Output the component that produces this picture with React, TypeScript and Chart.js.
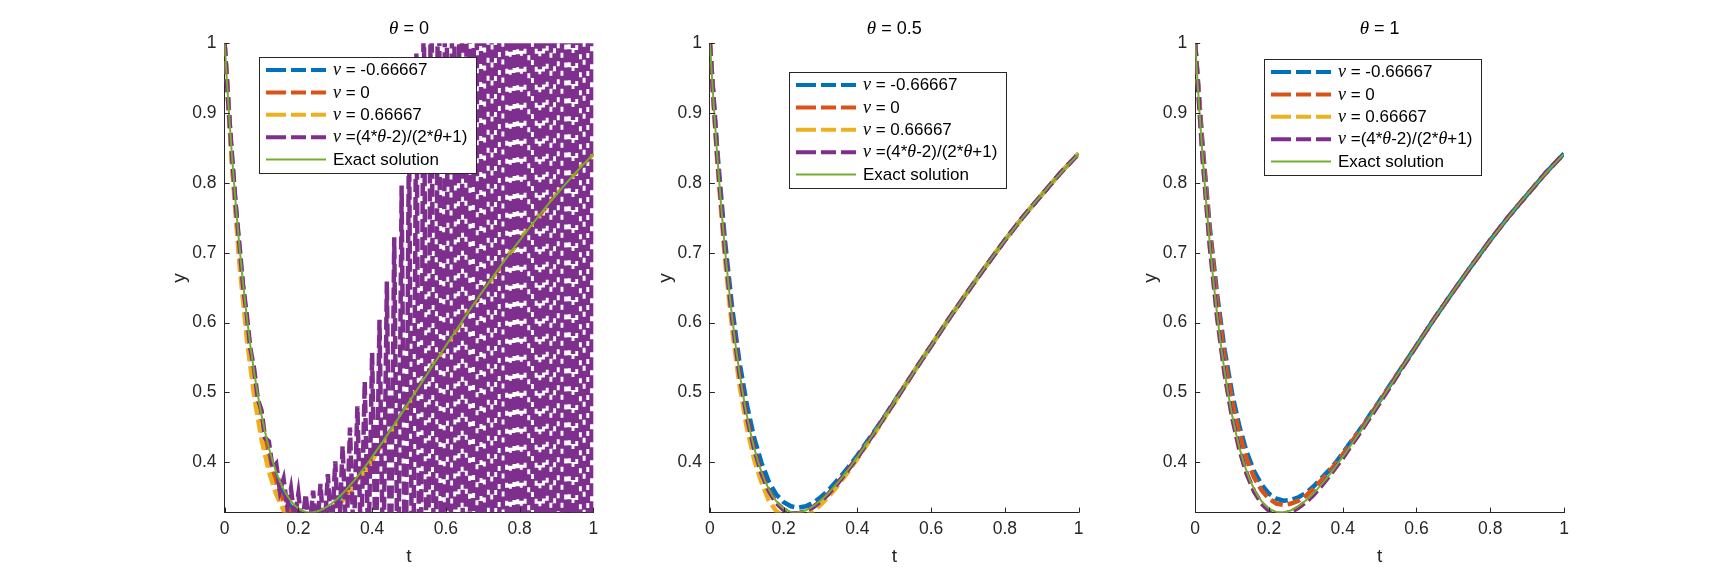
import { useEffect, useRef } from 'react';
import { Chart, registerables } from 'chart.js';

Chart.register(...registerables);

// ---------------- data ----------------
const panelThetas = ['0', '0.5', '1'];
const nuLabels = ['-0.66667', '0', '0.66667'];

const tGrid = [
  0, 0.02, 0.04, 0.06, 0.08, 0.1, 0.12, 0.14, 0.16, 0.18, 0.2, 0.22, 0.24, 0.26, 0.28, 0.3,
  0.32, 0.34, 0.36, 0.38, 0.4, 0.42, 0.44, 0.46, 0.48, 0.5, 0.55, 0.6, 0.65, 0.7, 0.75, 0.8,
  0.85, 0.9, 0.95, 1,
];

const tFine = [
  0, 0.01, 0.02, 0.03, 0.04, 0.05, 0.06, 0.07, 0.08, 0.09,
  0.1, 0.11, 0.12, 0.13, 0.14, 0.15, 0.16, 0.17, 0.18, 0.19,
  0.2, 0.21, 0.22, 0.23, 0.24, 0.25, 0.26, 0.27, 0.28, 0.29,
  0.3, 0.31, 0.32, 0.33, 0.34, 0.35, 0.36, 0.37, 0.38, 0.39,
  0.4, 0.41, 0.42, 0.43, 0.44, 0.45, 0.46, 0.47, 0.48, 0.49,
  0.5, 0.51, 0.52, 0.53, 0.54, 0.55, 0.56, 0.57, 0.58, 0.59,
  0.6, 0.61, 0.62, 0.63, 0.64, 0.65, 0.66, 0.67, 0.68, 0.69,
  0.7, 0.71, 0.72, 0.73, 0.74, 0.75, 0.76, 0.77, 0.78, 0.79,
  0.8, 0.81, 0.82, 0.83, 0.84, 0.85, 0.86, 0.87, 0.88, 0.89,
  0.9, 0.91, 0.92, 0.93, 0.94, 0.95, 0.96, 0.97, 0.98, 0.99,
  1,
];

const exactSolution = [
  1.0, 0.9148, 0.8387, 0.7708, 0.7103, 0.6565, 0.6088, 0.5665, 0.5292, 0.4965,
  0.4677, 0.4427, 0.4209, 0.4021, 0.3861, 0.3725, 0.3612, 0.3519, 0.3443, 0.3385,
  0.334, 0.331, 0.329, 0.3283, 0.3284, 0.3295, 0.3314, 0.3339, 0.3372, 0.341,
  0.3453, 0.3501, 0.3554, 0.3609, 0.3669, 0.3731, 0.3796, 0.3863, 0.3933, 0.4004,
  0.4077, 0.4152, 0.4228, 0.4305, 0.4382, 0.4461, 0.454, 0.462, 0.47, 0.478,
  0.4861, 0.4943, 0.5024, 0.5105, 0.5186, 0.5268, 0.5349, 0.5429, 0.551, 0.559,
  0.5671, 0.5751, 0.583, 0.5909, 0.5989, 0.6067, 0.6145, 0.6222, 0.6299, 0.6375,
  0.6451, 0.6526, 0.6601, 0.6676, 0.6749, 0.6822, 0.6894, 0.6966, 0.7037, 0.7108,
  0.7177, 0.7246, 0.7314, 0.7381, 0.7448, 0.7515, 0.758, 0.7645, 0.7709, 0.7772,
  0.7834, 0.7895, 0.7957, 0.8016, 0.8076, 0.8135, 0.8192, 0.8249, 0.8305, 0.836,
  0.8415,
];

// theta = 0 (on tGrid, except purple on tFine)
const theta0Blue = [
  1.0, 0.834, 0.703, 0.6, 0.519, 0.457, 0.411, 0.377, 0.352, 0.336, 0.327, 0.323, 0.323, 0.326,
  0.333, 0.342, 0.352, 0.364, 0.378, 0.391, 0.406, 0.422, 0.437, 0.453, 0.469, 0.486, 0.527,
  0.567, 0.607, 0.645, 0.682, 0.718, 0.752, 0.783, 0.814, 0.842,
];
const theta0Red = [
  1.0, 0.83, 0.695, 0.59, 0.509, 0.447, 0.401, 0.367, 0.343, 0.328, 0.32, 0.316, 0.317, 0.321,
  0.329, 0.338, 0.349, 0.362, 0.376, 0.389, 0.405, 0.421, 0.436, 0.452, 0.468, 0.485, 0.526,
  0.567, 0.607, 0.645, 0.682, 0.718, 0.752, 0.783, 0.814, 0.842,
];
const theta0Yellow = [
  1.0, 0.824, 0.685, 0.578, 0.495, 0.433, 0.387, 0.354, 0.331, 0.317, 0.31, 0.308, 0.309, 0.315,
  0.323, 0.333, 0.345, 0.358, 0.373, 0.387, 0.403, 0.419, 0.434, 0.451, 0.467, 0.484, 0.526,
  0.567, 0.607, 0.645, 0.682, 0.718, 0.752, 0.783, 0.814, 0.842,
];
const theta0Purple = [
  1.0, 0.9138, 0.8402, 0.7688, 0.7128, 0.6535, 0.6123, 0.5625, 0.534, 0.4907,
  0.4745, 0.4347, 0.4301, 0.3916, 0.3981, 0.359, 0.3762, 0.3354, 0.3623, 0.319,
  0.355, 0.3078, 0.3546, 0.3001, 0.3595, 0.2952, 0.3692, 0.2922, 0.3832, 0.2903,
  0.4012, 0.2884, 0.4234, 0.2859, 0.4497, 0.2818, 0.4803, 0.2753, 0.5158, 0.2653,
  0.5567, 0.2509, 0.604, 0.2306, 0.6587, 0.2029, 0.7222, 0.1661, 0.7963, 0.1181,
  0.8831, 0.0563, 0.9854, -0.0225, 1.1066, -0.1212, 1.2499, -0.2461, 1.421, -0.4,
  1.6251, -0.5919, 1.87, -0.8291, 2.1649, -1.1203, 2.5195, -1.4778, 2.9499, -1.9225,
  3.4651, -2.4574, 4.0901, -3.1124, 4.8449, -3.9178, 5.7594, -4.9034, 6.8737, -6.0992,
  8.2277, -7.5554, 9.8614, -9.3319, 11.8548, -11.4985, 14.258, -14.1355, 17.1709, -17.3228,
  20.7834, -21.2105, 25.0957, -25.9984, 30.4076, -31.7865, 36.8192, -38.8751, 44.6305, -47.464,
  54.1415,
];

// theta = 0.5 (tGrid)
const theta05Blue = [
  1.0, 0.847, 0.722, 0.623, 0.544, 0.483, 0.435, 0.399, 0.372, 0.354, 0.343, 0.337, 0.335, 0.337,
  0.342, 0.35, 0.359, 0.371, 0.383, 0.396, 0.41, 0.425, 0.44, 0.455, 0.471, 0.487, 0.527,
  0.567, 0.607, 0.645, 0.682, 0.718, 0.752, 0.783, 0.814, 0.842,
];
const theta05Red = [
  1.0, 0.837, 0.708, 0.607, 0.527, 0.466, 0.419, 0.384, 0.359, 0.342, 0.332, 0.327, 0.327, 0.33,
  0.336, 0.344, 0.354, 0.366, 0.379, 0.393, 0.407, 0.423, 0.438, 0.454, 0.47, 0.486, 0.527,
  0.567, 0.607, 0.645, 0.682, 0.718, 0.752, 0.783, 0.814, 0.842,
];
const theta05Yellow = [
  1.0, 0.829, 0.695, 0.592, 0.511, 0.45, 0.404, 0.371, 0.345, 0.33, 0.323, 0.319, 0.319, 0.323,
  0.33, 0.339, 0.35, 0.362, 0.376, 0.39, 0.405, 0.421, 0.436, 0.452, 0.469, 0.485, 0.527,
  0.567, 0.607, 0.645, 0.682, 0.718, 0.752, 0.783, 0.814, 0.842,
];
const theta05Purple = [
  1.0, 0.837, 0.708, 0.607, 0.527, 0.466, 0.419, 0.384, 0.359, 0.342, 0.332, 0.327, 0.327, 0.33,
  0.336, 0.344, 0.354, 0.366, 0.379, 0.393, 0.407, 0.423, 0.438, 0.454, 0.47, 0.486, 0.527,
  0.567, 0.607, 0.645, 0.682, 0.718, 0.752, 0.783, 0.814, 0.842,
];

// theta = 1 (tGrid)
const theta1Blue = [
  1.0, 0.854, 0.734, 0.638, 0.56, 0.499, 0.451, 0.414, 0.387, 0.368, 0.355, 0.348, 0.345, 0.346,
  0.35, 0.356, 0.365, 0.376, 0.387, 0.399, 0.413, 0.428, 0.442, 0.457, 0.473, 0.488, 0.528,
  0.567, 0.607, 0.645, 0.682, 0.718, 0.752, 0.783, 0.814, 0.842,
];
const theta1Red = [
  1.0, 0.849, 0.726, 0.628, 0.549, 0.488, 0.441, 0.404, 0.378, 0.36, 0.348, 0.341, 0.339, 0.341,
  0.345, 0.352, 0.362, 0.373, 0.385, 0.397, 0.411, 0.426, 0.441, 0.456, 0.472, 0.487, 0.528,
  0.567, 0.607, 0.645, 0.682, 0.718, 0.752, 0.783, 0.814, 0.842,
];
const theta1Yellow = [
  1.0, 0.836, 0.707, 0.606, 0.526, 0.465, 0.418, 0.383, 0.358, 0.341, 0.331, 0.326, 0.326, 0.329,
  0.335, 0.343, 0.353, 0.365, 0.378, 0.392, 0.406, 0.422, 0.437, 0.453, 0.469, 0.485, 0.526,
  0.567, 0.607, 0.645, 0.682, 0.718, 0.752, 0.783, 0.814, 0.842,
];
const theta1Purple = [
  1.0, 0.836, 0.707, 0.606, 0.526, 0.465, 0.418, 0.383, 0.358, 0.341, 0.331, 0.326, 0.326, 0.329,
  0.335, 0.343, 0.353, 0.365, 0.378, 0.392, 0.406, 0.422, 0.437, 0.453, 0.469, 0.485, 0.526,
  0.567, 0.607, 0.645, 0.682, 0.718, 0.752, 0.783, 0.814, 0.842,
];

const xTicks = [0, 0.2, 0.4, 0.6, 0.8, 1];
const yTicks = [0.4, 0.5, 0.6, 0.7, 0.8, 0.9, 1];
const xRange = [0, 1];
const yRange = [0.328, 1];

// ---------------- style / layout ----------------
const W = 1728;
const H = 576;
const PLOT_LEFTS = [224.6, 709.9, 1195.2];
const PLOT_W = 368.8;
const PLOT_TOP = 43.2;
const PLOT_BOTTOM = 512.6;
const Y_BOX = 60;
const LEGENDS = [
  { x: 259, y: 57 },
  { x: 789, y: 72 },
  { x: 1264, y: 59 },
];
const LEGEND_W = 217;
const LEGEND_H = 116;

const INK = '#262626';
const SANS = '"Liberation Sans", Arial, Helvetica, sans-serif';
const SERIF = '"Liberation Serif", "Times New Roman", serif';
const COLORS = {
  blue: '#0072BD',
  red: '#D95319',
  yellow: '#EDB120',
  purple: '#7E2F8E',
  green: '#77AC30',
};
const DASH = [13, 5];
const DASH_W = 4.5;

type Part = { text: string; italic?: boolean };

function fontFor(p: Part, size: number) {
  return p.italic ? `italic ${size + 1}px ${SERIF}` : `${size}px ${SANS}`;
}

function partsWidth(ctx: CanvasRenderingContext2D, parts: Part[], size: number) {
  let w = 0;
  for (const p of parts) {
    ctx.font = fontFor(p, size);
    w += ctx.measureText(p.text).width;
  }
  return w;
}

function drawParts(
  ctx: CanvasRenderingContext2D,
  parts: Part[],
  x: number,
  y: number,
  size: number,
  center = false,
) {
  let cx = center ? x - partsWidth(ctx, parts, size) / 2 : x;
  ctx.textAlign = 'left';
  ctx.textBaseline = 'middle';
  ctx.fillStyle = '#000';
  for (const p of parts) {
    ctx.font = fontFor(p, size);
    ctx.fillText(p.text, cx, y);
    cx += ctx.measureText(p.text).width;
  }
}

const legendParts: Part[][] = [
  [{ text: 'ν', italic: true }, { text: ' = ' + nuLabels[0] }],
  [{ text: 'ν', italic: true }, { text: ' = ' + nuLabels[1] }],
  [{ text: 'ν', italic: true }, { text: ' = ' + nuLabels[2] }],
  [
    { text: 'ν', italic: true },
    { text: ' =(4*' },
    { text: 'θ', italic: true },
    { text: '-2)/(2*' },
    { text: 'θ', italic: true },
    { text: '+1)' },
  ],
  [{ text: 'Exact solution' }],
];
const legendColors = [COLORS.blue, COLORS.red, COLORS.yellow, COLORS.purple, COLORS.green];

type PanelSpec = {
  index: number;
  blue: number[];
  red: number[];
  yellow: number[];
  purple: number[];
  purpleT: number[];
};

const panels: PanelSpec[] = [
  { index: 0, blue: theta0Blue, red: theta0Red, yellow: theta0Yellow, purple: theta0Purple, purpleT: tFine },
  { index: 1, blue: theta05Blue, red: theta05Red, yellow: theta05Yellow, purple: theta05Purple, purpleT: tGrid },
  { index: 2, blue: theta1Blue, red: theta1Red, yellow: theta1Yellow, purple: theta1Purple, purpleT: tGrid },
];

function pts(t: number[], y: number[]) {
  return t.map((tv, i) => ({ x: tv, y: y[i] }));
}

function fmt(v: number) {
  return String(Number(v.toFixed(1)));
}

function makeConfig(panel: PanelSpec): any {
  const left = PLOT_LEFTS[panel.index];
  const legend = LEGENDS[panel.index];
  const dashed = (label: string, color: string, data: any[], order: number) => ({
    label,
    data,
    borderColor: color,
    backgroundColor: color,
    borderWidth: DASH_W,
    borderDash: DASH,
    borderCapStyle: 'butt',
    pointRadius: 0,
    tension: 0,
    fill: false,
    clip: 0,
    order,
  });

  const decor = {
    id: 'decor' + panel.index,
    afterDraw(chart: any) {
      const ctx: CanvasRenderingContext2D = chart.ctx;
      const xs = chart.scales.x;
      const ys = chart.scales.y;
      const area = chart.chartArea;
      ctx.save();
      // inward ticks
      ctx.strokeStyle = INK;
      ctx.lineWidth = 1;
      ctx.beginPath();
      for (const v of xTicks) {
        const px = Math.round(xs.getPixelForValue(v)) + 0.5;
        ctx.moveTo(px, area.bottom);
        ctx.lineTo(px, area.bottom - 5);
      }
      for (const v of yTicks) {
        const py = Math.round(ys.getPixelForValue(v)) + 0.5;
        ctx.moveTo(area.left, py);
        ctx.lineTo(area.left + 5, py);
      }
      ctx.stroke();

      // title
      drawParts(
        ctx,
        [{ text: 'θ', italic: true }, { text: ' = ' + panelThetas[panel.index] }],
        (area.left + area.right) / 2,
        29,
        18,
        true,
      );

      // legend
      ctx.fillStyle = '#fff';
      ctx.fillRect(legend.x, legend.y, LEGEND_W, LEGEND_H);
      ctx.strokeStyle = INK;
      ctx.lineWidth = 1;
      ctx.strokeRect(legend.x + 0.5, legend.y + 0.5, LEGEND_W, LEGEND_H);
      for (let i = 0; i < legendParts.length; i++) {
        const cy = legend.y + 13 + i * 22.4;
        ctx.strokeStyle = legendColors[i];
        ctx.setLineDash([]);
        ctx.lineCap = 'butt';
        ctx.beginPath();
        if (i < 4) {
          ctx.lineWidth = 4;
          const segs = [
            [7, 27],
            [32, 47],
            [52, 67],
          ];
          for (const [a, b] of segs) {
            ctx.moveTo(legend.x + a, cy);
            ctx.lineTo(legend.x + b, cy);
          }
        } else {
          ctx.lineWidth = 2;
          ctx.moveTo(legend.x + 7, cy);
          ctx.lineTo(legend.x + 67, cy);
        }
        ctx.stroke();
        drawParts(ctx, legendParts[i], legend.x + 74, cy + 0.5, 17);
      }
      ctx.restore();
    },
  };

  return {
    type: 'line',
    data: {
      datasets: [
        {
          label: 'Exact solution',
          data: pts(tFine, exactSolution),
          borderColor: COLORS.green,
          backgroundColor: COLORS.green,
          borderWidth: 2,
          pointRadius: 0,
          tension: 0,
          fill: false,
          clip: 0,
          order: 0,
        },
        dashed('purple', COLORS.purple, pts(panel.purpleT, panel.purple), 1),
        dashed('yellow', COLORS.yellow, pts(tGrid, panel.yellow), 2),
        dashed('red', COLORS.red, pts(tGrid, panel.red), 3),
        dashed('blue', COLORS.blue, pts(tGrid, panel.blue), 4),
      ],
    },
    options: {
      animation: false,
      responsive: false,
      maintainAspectRatio: false,
      events: [],
      layout: {
        padding: {
          left: left - Y_BOX,
          right: W - (left + PLOT_W),
          top: PLOT_TOP,
          bottom: 0,
        },
      },
      plugins: {
        legend: { display: false },
        tooltip: { enabled: false },
        title: { display: false },
      },
      scales: {
        x: {
          type: 'linear',
          position: 'bottom',
          min: xRange[0],
          max: xRange[1],
          afterBuildTicks: (s: any) => {
            s.ticks = xTicks.map((v) => ({ value: v }));
          },
          afterFit: (s: any) => {
            s.height = H - PLOT_BOTTOM;
          },
          grid: { display: false, drawTicks: false },
          border: { display: true, color: INK, width: 1 },
          ticks: {
            autoSkip: false,
            maxRotation: 0,
            padding: 6,
            color: INK,
            font: { family: SANS, size: 17.5 },
            callback: (v: any) => fmt(Number(v)),
          },
          title: {
            display: true,
            text: 't',
            color: INK,
            font: { family: SANS, size: 19 },
            padding: { top: 0, bottom: 8 },
          },
        },
        y: {
          type: 'linear',
          position: 'left',
          min: yRange[0],
          max: yRange[1],
          afterBuildTicks: (s: any) => {
            s.ticks = yTicks.map((v) => ({ value: v }));
          },
          afterFit: (s: any) => {
            s.width = Y_BOX;
          },
          grid: { display: false, drawTicks: false },
          border: { display: true, color: INK, width: 1 },
          ticks: {
            autoSkip: false,
            padding: 8,
            color: INK,
            font: { family: SANS, size: 17.5 },
            callback: (v: any) => fmt(Number(v)),
          },
          title: {
            display: true,
            text: 'y',
            color: INK,
            font: { family: SANS, size: 19 },
            padding: { top: 4, bottom: 0 },
          },
        },
      },
    },
    plugins: [decor],
  };
}

function PanelChart({ panel }: { panel: PanelSpec }) {
  const ref = useRef<HTMLCanvasElement>(null);
  useEffect(() => {
    const canvas = ref.current;
    if (!canvas) return;
    const chart = new Chart(canvas, makeConfig(panel));
    return () => chart.destroy();
  }, [panel]);
  return (
    <canvas
      ref={ref}
      width={W}
      height={H}
      style={{ position: 'absolute', left: 0, top: 0, width: W, height: H }}
    />
  );
}

export default function App() {
  return (
    <div
      style={{
        position: 'absolute',
        left: 0,
        top: 0,
        width: W,
        height: H,
        background: '#fff',
        overflow: 'hidden',
      }}
    >
      {panels.map((p) => (
        <PanelChart key={p.index} panel={p} />
      ))}
    </div>
  );
}
